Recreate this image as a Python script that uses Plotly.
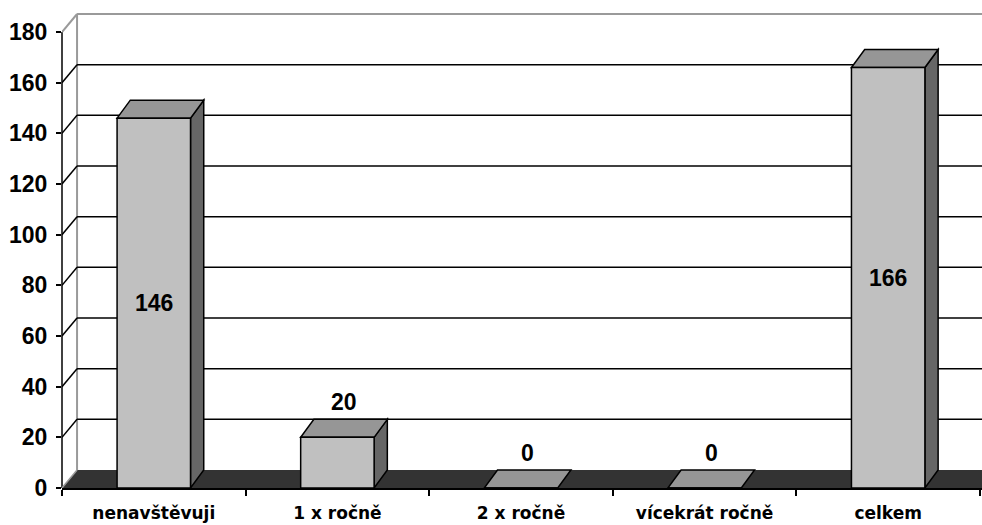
import plotly.graph_objects as go

# Data
categories = ["nenavštěvuji", "1 x ročně", "2 x ročně", "vícekrát ročně", "celkem"]
values = [146, 20, 0, 0, 166]
y_ticks = [0, 20, 40, 60, 80, 100, 120, 140, 160, 180]

# Styling / pseudo-3D geometry (in axis units)
FONT = "Liberation Sans, Arial, sans-serif"
CAT_FONT = "DejaVu Sans, Liberation Sans, sans-serif"
BAR_W = 0.40
WALL_DX, WALL_DY = 0.082, 7.1
BAR_DX, BAR_DY = 0.072, 7.1
FRONT = "#C0C0C0"
TOP = "#969696"
SIDE = "#666666"
FLOOR = "#333333"
WALL_EDGE = "#9A9A9A"

n = len(categories)
xs = list(range(n))
y_top = y_ticks[-1]
x_lo = -0.5
x_hi = n - 0.5 + 0.011
x_far = x_hi + 0.3
y_hi = y_top + WALL_DY + 0.4


def line(x0, y0, x1, y1, color="black", width=1.5, xref="x"):
    return dict(type="line", xref=xref, yref="y", x0=x0, y0=y0, x1=x1, y1=y1,
                line=dict(color=color, width=width), layer="below")


def poly(points, fill, outline="black", width=1.5):
    d = "M " + " L ".join(f"{px},{py}" for px, py in points) + " Z"
    return dict(type="path", xref="x", yref="y", path=d, fillcolor=fill,
                line=dict(color=outline, width=width), layer="below")


shapes = []
# floor
shapes.append(poly([(x_lo, 0), (x_far, 0), (x_far + WALL_DX, WALL_DY), (x_lo + WALL_DX, WALL_DY)],
                   FLOOR, outline=FLOOR, width=0))
shapes.append(line(x_lo, 0, x_lo + WALL_DX, WALL_DY, color=WALL_EDGE))
# back wall border
shapes.append(line(x_lo + WALL_DX, WALL_DY, x_lo + WALL_DX, y_top + WALL_DY, color=WALL_EDGE, width=2))
shapes.append(line(x_lo + WALL_DX, y_top + WALL_DY, x_far, y_top + WALL_DY, color=WALL_EDGE, width=2))
shapes.append(line(x_lo, y_top, x_lo + WALL_DX, y_top + WALL_DY, color=WALL_EDGE, width=2))
# gridlines on the back wall and side diagonals
for v in y_ticks[1:-1]:
    shapes.append(line(x_lo + WALL_DX, v + WALL_DY, x_far, v + WALL_DY))
    shapes.append(line(x_lo, v, x_lo + WALL_DX, v + WALL_DY))
# front vertical axis line
shapes.append(line(0, 0, 0, y_top, xref="paper"))

# top and side faces of the columns
for x, v in zip(xs, values):
    left, right = x - BAR_W / 2, x + BAR_W / 2
    if v > 0:
        shapes.append(poly([(right, 0), (right, v), (right + BAR_DX, v + BAR_DY), (right + BAR_DX, BAR_DY)], SIDE))
    shapes.append(poly([(left, v), (right, v), (right + BAR_DX, v + BAR_DY), (left + BAR_DX, v + BAR_DY)], TOP))

fig = go.Figure()
fig.add_trace(go.Bar(
    x=xs, y=values, width=BAR_W,
    marker=dict(color=FRONT, line=dict(color="black", width=1.5)),
    hoverinfo="skip", showlegend=False,
))

# value labels
annotations = []
for x, v in zip(xs, values):
    inside = v > 0.25 * y_top
    annotations.append(dict(
        x=x if inside else x + BAR_DX / 2,
        y=v / 2 if inside else v,
        yshift=0 if inside else 35,
        text=f"<b>{v}</b>", showarrow=False, xref="x", yref="y",
        font=dict(family=FONT, size=23, color="black"),
    ))

fig.update_layout(
    width=982, height=525,
    margin=dict(l=62, r=0, t=13, b=37),
    paper_bgcolor="white", plot_bgcolor="white",
    shapes=shapes, annotations=annotations,
    bargap=0.6, showlegend=False,
    xaxis=dict(
        range=[x_lo, x_hi], tickmode="array", tickvals=xs, ticktext=categories,
        ticks="", showgrid=False, zeroline=False,
        showline=True, linecolor="black", linewidth=1.5,
        tickfont=dict(family=CAT_FONT, size=17, color="black", weight="bold"),
        ticklabelstandoff=9,
        minor=dict(tickmode="array", tickvals=[x - 0.5 for x in xs] + [n - 0.5],
                   ticks="outside", ticklen=6, tickwidth=1.5, tickcolor="black", showgrid=False),
        fixedrange=True,
    ),
    yaxis=dict(
        range=[0, y_hi], tickmode="array", tickvals=y_ticks,
        ticks="outside", ticklen=5, tickwidth=1.5, tickcolor="black",
        showgrid=False, zeroline=False, showline=False,
        tickfont=dict(family=FONT, size=23, color="black", weight="bold"),
        ticklabelstandoff=4, fixedrange=True,
    ),
)

fig.write_html("out.html")
